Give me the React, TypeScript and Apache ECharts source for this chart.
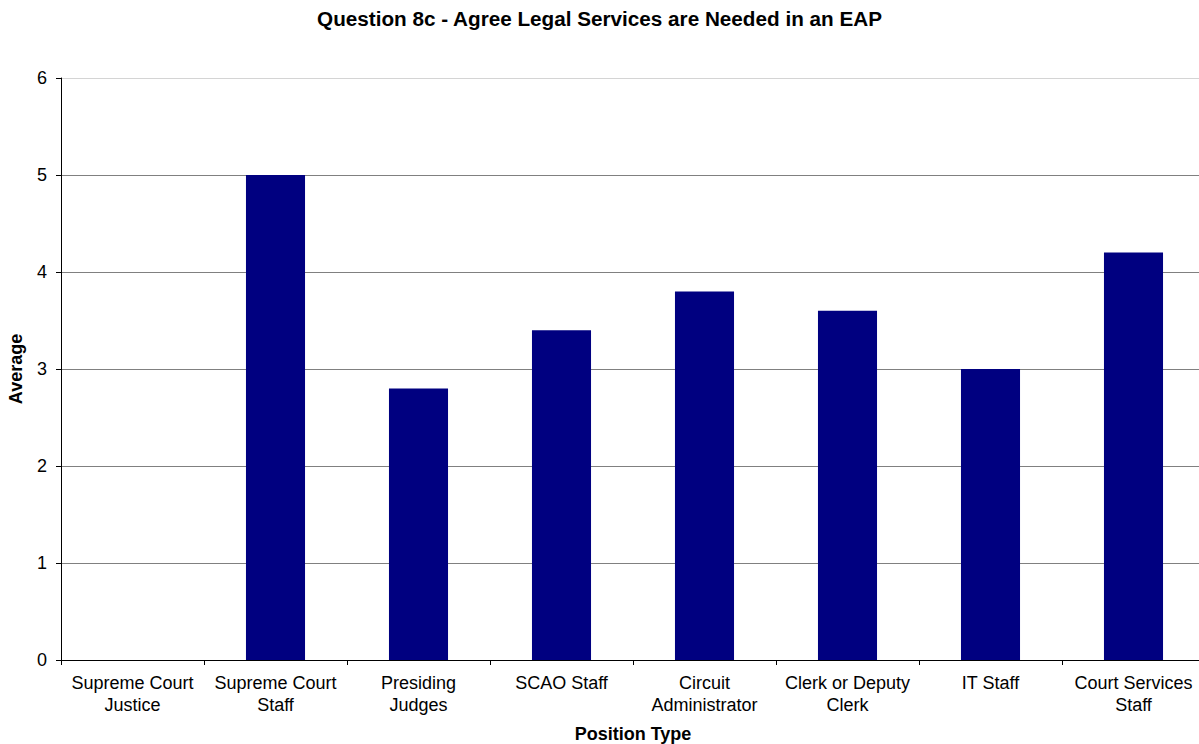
import React, { useEffect, useRef } from "react";
import * as echarts from "echarts";

const categories = [
  "Supreme Court\nJustice",
  "Supreme Court\nStaff",
  "Presiding\nJudges",
  "SCAO Staff",
  "Circuit\nAdministrator",
  "Clerk or Deputy\nClerk",
  "IT Staff",
  "Court Services\nStaff",
];
const averages = [0, 5.0, 2.8, 3.4, 3.8, 3.6, 3.0, 4.2];
const chartTitle = "Question 8c - Agree Legal Services are Needed in an EAP";
const xName = "Position Type";
const yName = "Average";

export default function App() {
  const ref = useRef<HTMLDivElement>(null);
  useEffect(() => {
    if (!ref.current) return;
    const chart = echarts.init(ref.current, undefined, { renderer: "svg" });
    const font = "'Liberation Sans', Arial, sans-serif";
    chart.setOption({
      animation: false,
      backgroundColor: "#ffffff",
      textStyle: { fontFamily: font },
      title: {
        text: chartTitle,
        left: "center",
        top: 3,
        textStyle: { fontFamily: font, fontSize: 20.7, fontWeight: "bold", color: "#000" },
      },
      grid: {
        left: 61,
        right: -6,
        top: 78,
        bottom: 84,
        containLabel: false,
        outerBoundsMode: "none",
      },
      xAxis: {
        type: "category",
        data: categories,
        boundaryGap: true,
        name: xName,
        nameLocation: "middle",
        nameGap: 74,
        nameTextStyle: { fontFamily: font, fontSize: 18, fontWeight: "bold", color: "#000", verticalAlign: "middle" },
        axisLine: { lineStyle: { color: "#000", width: 1 } },
        axisTick: { show: true, alignWithLabel: false, length: 5, lineStyle: { color: "#000" } },
        axisLabel: {
          interval: 0,
          fontFamily: font,
          fontSize: 18,
          color: "#000",
          lineHeight: 22,
          margin: 12,
        },
      },
      yAxis: {
        type: "value",
        min: 0,
        max: 6,
        interval: 1,
        name: yName,
        nameLocation: "middle",
        nameGap: 45,
        nameRotate: 90,
        nameTextStyle: { fontFamily: font, fontSize: 18, fontWeight: "bold", color: "#000", verticalAlign: "middle" },
        axisLine: { show: true, lineStyle: { color: "#000", width: 1 } },
        axisTick: { show: true, length: 5, lineStyle: { color: "#000" } },
        axisLabel: { fontFamily: font, fontSize: 18, color: "#000", margin: 14 },
        splitLine: {
          show: true,
          lineStyle: {
            color: ["#808080", "#808080", "#808080", "#808080", "#808080", "#808080", "#d4d4d4"],
            width: 1,
          },
        },
      },
      series: [
        {
          type: "bar",
          data: averages,
          barWidth: "41.3%",
          itemStyle: { color: "#000080", borderWidth: 0 },
        },
      ],
    });
    return () => chart.dispose();
  }, []);
  return (
    <div
      ref={ref}
      style={{ position: "fixed", left: 0, top: 0, width: 1199, height: 744 }}
    />
  );
}
